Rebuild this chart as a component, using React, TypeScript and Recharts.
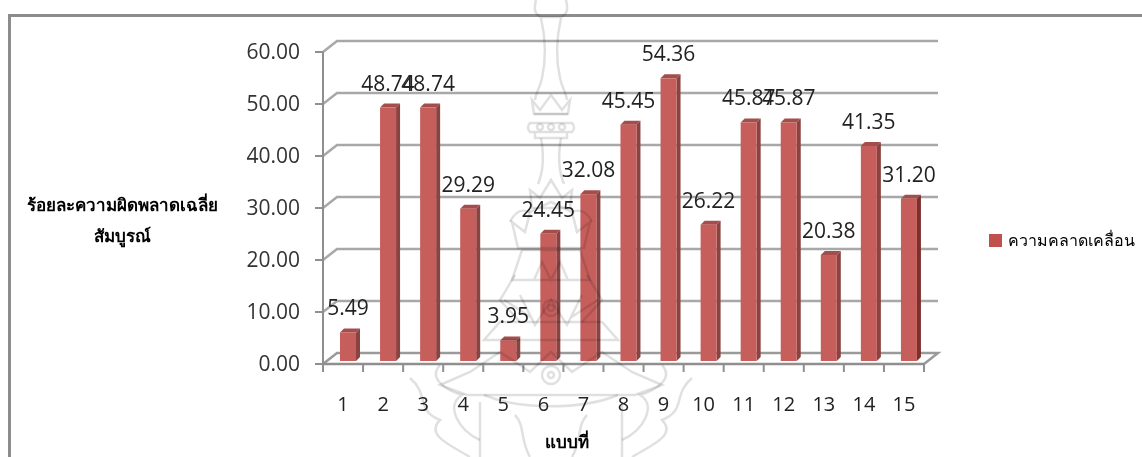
import React from 'react';

import {
  Bar,
  BarChart,
  CartesianGrid,
  LabelList,
  Legend,
  XAxis,
  YAxis,
} from 'recharts';

const models = ['1', '2', '3', '4', '5', '6', '7', '8', '9', '10', '11', '12', '13', '14', '15'];
const errorValues = [5.49, 48.74, 48.74, 29.29, 3.95, 24.45, 32.08, 45.45, 54.36, 26.22, 45.87, 45.87, 20.38, 41.35, 31.2];
const valueTicks = [0, 10, 20, 30, 40, 50, 60];

const seriesName = 'ความคลาดเคลื่อน';
const yTitleLines = ['ร้อยละความผิดพลาดเฉลี่ย', 'สัมบูรณ์'];
const xTitle = 'แบบที่';

const rows = models.map((model, i) => ({ model, value: errorValues[i] }));

const NUMBER_FONT = '"Open Sans", "Liberation Sans", sans-serif';
const THAI_FONT = '"Noto Sans", "DejaVu Sans", sans-serif';
const AXIS_GREY = '#8f8f8f';

// depth of the fake 3D box
const WALL_DX = 14;
const WALL_DY = 11;
const BAR_DX = 4;
const BAR_DY = 4;
const BAR_SHIFT = 5;
const BAR_LIFT = 3;

const Bar3D = (props: any) => {
  const { x, y, width, height, index } = props;
  const left = x + BAR_SHIFT;
  const top = y - BAR_LIFT;
  const right = left + width;
  const bottom = top + height;
  const sideFill = index === models.length - 1 ? '#7b302e' : '#8a4341';
  return (
    <g>
      <polygon
        points={`${left},${top} ${left + BAR_DX},${top - BAR_DY} ${right + BAR_DX},${top - BAR_DY} ${right},${top}`}
        fill="#a44e4c"
      />
      <polygon
        points={`${right},${top} ${right + BAR_DX},${top - BAR_DY} ${right + BAR_DX},${bottom - BAR_DY} ${right},${bottom}`}
        fill={sideFill}
      />
      <rect x={left} y={top} width={width} height={height} fill="#c65e5c" />
    </g>
  );
};

const BarValueLabel = (props: any) => {
  const { x, y, width, value } = props;
  return (
    <text
      x={x + width / 2 + BAR_SHIFT}
      y={y - BAR_LIFT - 25}
      textAnchor="middle"
      dominantBaseline="central"
      fontFamily={NUMBER_FONT}
      fontSize={21}
      fill="#222"
    >
      {Number(value).toFixed(2)}
    </text>
  );
};

// back wall and floor lines, drawn from the grid's own y positions
const WallLine = (props: any) => {
  const { x1, x2, y1, index } = props;
  const isFloor = y1 > 350;
  const backY = y1 - WALL_DY;
  return (
    <g key={`wall-${index}-${y1}`}>
      <path
        d={`M${x1},${y1} L${x1 + WALL_DX},${backY} L${x2 + WALL_DX},${backY}${isFloor ? ` L${x2},${y1}` : ''}`}
        fill="none"
        stroke={isFloor ? '#9a9a9a' : '#a8a8a8'}
        strokeWidth={2.5}
      />
    </g>
  );
};

// ticks sit on the category edges, the number stays centred between them
const ModelTick = (props: any) => {
  const { x, y, payload, index } = props;
  const half = 20.03;
  return (
    <g>
      <line x1={x - half} x2={x - half} y1={y - 8} y2={y} stroke={AXIS_GREY} strokeWidth={2} />
      {index === models.length - 1 && (
        <line x1={x + half} x2={x + half} y1={y - 8} y2={y} stroke={AXIS_GREY} strokeWidth={2} />
      )}
      <text
        x={x}
        y={y + 31}
        textAnchor="middle"
        dominantBaseline="central"
        fontFamily={NUMBER_FONT}
        fontSize={20}
        fill="#222"
      >
        {payload.value}
      </text>
    </g>
  );
};

const YTitle = () => (
  <g fontFamily={THAI_FONT} fontSize={17} fontWeight={700} fill="#000" textAnchor="middle">
    {yTitleLines.map((line, i) => (
      <text key={line} x={122} y={204 + i * 31} dominantBaseline="central">
        {line}
      </text>
    ))}
  </g>
);

const XTitle = () => (
  <text
    x={567}
    y={441}
    textAnchor="middle"
    dominantBaseline="central"
    fontFamily={THAI_FONT}
    fontSize={17}
    fontWeight={700}
    fill="#000"
  >
    {xTitle}
  </text>
);

// one-line legend, Thai text otherwise breaks between syllables
const SeriesLegend = (props: any) => (
  <div style={{ fontFamily: THAI_FONT, fontSize: 16, color: '#000', whiteSpace: 'nowrap' }}>
    {(props.payload ?? []).map((entry: any) => (
      <div key={entry.value} style={{ display: 'flex', alignItems: 'center', gap: 6 }}>
        <span style={{ width: 13, height: 13, background: entry.color, flex: 'none' }} />
        <span>{entry.value}</span>
      </div>
    ))}
  </div>
);

// pale seal printed across the page, also showing through the bars
const PageSeal = () => (
  <svg
    width={1142}
    height={457}
    style={{ position: 'absolute', left: 0, top: 0, pointerEvents: 'none', mixBlendMode: 'multiply' }}
  >
    <g fill="none" stroke="#000" strokeOpacity={0.12} strokeWidth={2.5}>
      <path d="M536,0 C534,8 534,14 541,17 L561,17 C568,14 568,8 566,0" />
      <path d="M541,18 C546,40 546,60 542,78 C540,88 536,92 535,100 M561,18 C556,40 556,60 560,78 C562,88 566,92 567,100" />
      <path d="M532,100 L540,110 L551,95 L562,110 L570,100 L568,114 L534,114 Z" />
      <path d="M534,114 L568,114 M530,123 A6,6 0 0 0 530,132 L572,132 A6,6 0 0 0 572,123 Z M535,132 L535,138 L567,138 L567,132" />
      <circle cx={540} cy={127} r={3} />
      <circle cx={551} cy={127} r={3} />
      <circle cx={562} cy={127} r={3} />
      <path d="M541,138 C544,155 544,170 538,184 M561,138 C558,155 558,170 564,184" />
      <path d="M530,190 L540,198 L551,180 L562,198 L572,190 L570,208 L532,208 Z" />
      <path d="M512,222 L525,232 L530,212 L551,202 L572,212 L577,232 L590,222 L584,248 L518,248 Z" />
      <path d="M510,222 C518,205 528,212 530,212 M592,222 C584,205 574,212 572,212" />
      <path d="M522,250 L580,250 L590,280 L512,280 Z M534,280 L542,262 L551,280 L560,262 L568,280" />
      <path d="M515,275 L500,300 L520,322 M587,275 L602,300 L582,322" />
      <circle cx={551} cy={308} r={8} />
      <circle cx={551} cy={308} r={3} />
      <path d="M504,300 L532,318 M598,300 L570,318 M520,295 L535,325 L551,300 L567,325 L582,295" />
      <path d="M500,322 L602,322 L618,340 L484,340 Z" />
      <path d="M470,372 L500,352 L530,372 L551,352 L572,372 L602,352 L632,372 L662,385 L635,395 L467,395 L440,385 Z" />
      <circle cx={551} cy={375} r={9} />
      <circle cx={551} cy={375} r={3} />
      <path d="M484,395 C520,410 582,410 618,395 M480,402 L480,457 M622,402 L622,457" />
      <path d="M410,378 C430,395 415,410 440,420 C425,435 450,445 470,457 M692,378 C672,395 687,410 662,420 C677,435 652,445 632,457" />
      <path d="M440,365 C428,378 445,390 462,395 C445,405 458,430 480,440 M662,365 C674,378 657,390 640,395 C657,405 644,430 622,440" />
      <path d="M515,415 C525,425 520,440 530,457 M587,415 C577,425 582,440 572,457" />
    </g>
  </svg>
);

export default function App() {
  return (
    <div style={{ position: 'absolute', left: 0, top: 0, width: 1142, height: 457, background: '#fff', overflow: 'hidden' }}>
      <div
        style={{
          position: 'absolute',
          left: 8,
          top: 14,
          width: 1134,
          height: 443,
          borderTop: '3px solid #8c8c8c',
          borderLeft: '3px solid #8c8c8c',
          boxSizing: 'border-box',
        }}
      />
      <BarChart
        width={1142}
        height={457}
        data={rows}
        margin={{ top: 52, right: 218, bottom: 0, left: 0 }}
        barSize={16}
        style={{ position: 'absolute', left: 0, top: 0 }}
      >
        <CartesianGrid vertical={false} horizontal={WallLine} />
        <XAxis
          dataKey="model"
          height={93}
          interval={0}
          axisLine={{ stroke: AXIS_GREY, strokeWidth: 2.5 }}
          tickLine={false}
          tick={ModelTick}
          label={{ content: XTitle }}
        />
        <YAxis
          width={323}
          domain={[0, 60]}
          ticks={valueTicks}
          interval={0}
          axisLine={{ stroke: AXIS_GREY, strokeWidth: 2 }}
          tickLine={{ stroke: AXIS_GREY, strokeWidth: 2 }}
          tickSize={8}
          tickMargin={15}
          tickFormatter={(v: number) => v.toFixed(2)}
          tick={{ fontFamily: NUMBER_FONT, fontSize: 21, fill: '#333' }}
          label={{ content: YTitle }}
        />
        {/* centred vertical layout keeps the legend from taking room off the plot */}
        <Legend
          layout="vertical"
          align="center"
          verticalAlign="middle"
          content={SeriesLegend}
          wrapperStyle={{ left: 989, top: 228, width: 153 }}
        />
        <Bar
          dataKey="value"
          name={seriesName}
          fill="#c0504d"
          shape={Bar3D}
          isAnimationActive={false}
        >
          <LabelList dataKey="value" content={BarValueLabel} />
        </Bar>
      </BarChart>
      <PageSeal />
    </div>
  );
}
